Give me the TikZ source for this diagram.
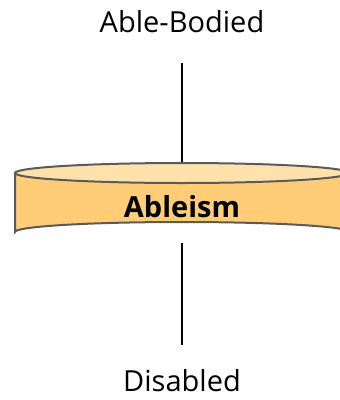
\documentclass[tikz,border=0pt]{standalone}
\usepackage{fontspec}
\setmainfont{Open Sans}
\definecolor{bodyfill}{HTML}{FFCC77}
\definecolor{topfill}{HTML}{FFE1AB}
\definecolor{edge}{HTML}{5A5A5A}
\begin{document}
\begin{tikzpicture}[x=1pt,y=-1pt,
  lbl/.style={font=\fontsize{29}{34}\selectfont, inner sep=0pt},
  axis/.style={line width=2pt, black},
  rim/.style={edge, line width=2pt}]
\useasboundingbox (0,0) rectangle (340,400);
\clip (0,0) rectangle (340,400);
\node[lbl] (ab) at (182,22) {Able-Bodied};
\node[lbl] (dis) at (182,381) {Disabled};
\coordinate (t1) at (182,63);
\coordinate (t2) at (182,163);
\coordinate (b1) at (182,243);
\coordinate (b2) at (182,345);
\draw[axis] (t1) -- (t2);
\draw[axis] (b1) -- (b2);
% cylinder
\fill[bodyfill] (15,173) -- (15,232) arc[start angle=180,end angle=360,x radius=167,y radius=10] -- (349,173) -- cycle;
\draw[rim] (15,173) -- (15,232) arc[start angle=180,end angle=360,x radius=167,y radius=10] -- (349,173);
\draw[rim, fill=topfill] (182,173) ellipse[x radius=167,y radius=10];
\node[font=\fontsize{29}{34}\selectfont\bfseries, inner sep=0pt] (ableism) at (182,207) {Ableism};
\end{tikzpicture}
\end{document}
